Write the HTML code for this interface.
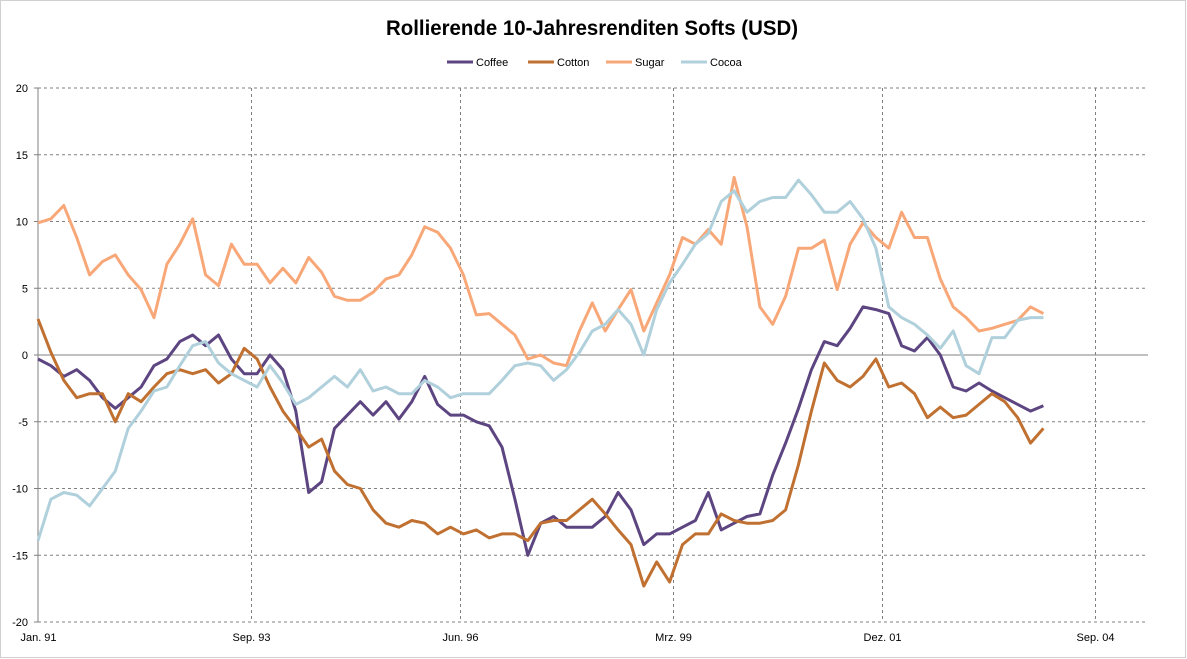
<!DOCTYPE html>
<html><head><meta charset="utf-8"><style>
body{margin:0;background:#fff;}
svg{display:block;font-family:"Liberation Sans",sans-serif;}
</style></head><body>
<svg id="chart" width="1187" height="659">
<rect x="0.5" y="0.5" width="1185" height="657" fill="#fff" stroke="#d0d0d0"/>
<text x="592" y="35" text-anchor="middle" font-size="21" font-weight="bold" fill="#000" textLength="412" lengthAdjust="spacingAndGlyphs">Rollierende 10-Jahresrenditen Softs (USD)</text>
<g id="legend"></g>
<g id="grid"></g>
<g id="axes"></g>
<g id="series"></g>
</svg>
<script>
const xTickLabels=["Jan. 91","Sep. 93","Jun. 96","Mrz. 99","Dez. 01","Sep. 04"];
const xTickMonths=[0,33,65.5,98.5,131,164];
const yTicks=[20,15,10,5,0,-5,-10,-15,-20];
const seriesNames=["Coffee","Cotton","Sugar","Cocoa"];
const seriesColors=["#5c4580","#c07030","#f8a878","#b0d0dc"];
const monthStep=2;
const coffee=[-0.3,-0.8,-1.6,-1.1,-1.9,-3.2,-4.0,-3.2,-2.4,-0.8,-0.3,1.0,1.5,0.7,1.5,-0.3,-1.4,-1.4,0,-1.1,-4.2,-10.3,-9.5,-5.5,-4.5,-3.5,-4.5,-3.5,-4.8,-3.5,-1.6,-3.7,-4.5,-4.5,-5.0,-5.3,-6.9,-10.8,-15,-12.6,-12.1,-12.9,-12.9,-12.9,-12.1,-10.3,-11.6,-14.2,-13.4,-13.4,-12.9,-12.4,-10.3,-13.1,-12.6,-12.1,-11.9,-9.0,-6.6,-4.0,-1.1,1.0,0.7,2.0,3.6,3.4,3.1,0.7,0.3,1.3,0,-2.4,-2.7,-2.1,-2.7,-3.2,-3.7,-4.2,-3.8];
const cotton=[2.7,0.2,-1.9,-3.2,-2.9,-2.9,-5.0,-2.9,-3.5,-2.4,-1.4,-1.1,-1.4,-1.1,-2.1,-1.4,0.5,-0.3,-2.4,-4.2,-5.5,-6.9,-6.3,-8.7,-9.7,-10,-11.6,-12.6,-12.9,-12.4,-12.6,-13.4,-12.9,-13.4,-13.1,-13.7,-13.4,-13.4,-13.9,-12.6,-12.4,-12.4,-11.6,-10.8,-11.9,-13.1,-14.2,-17.3,-15.5,-17,-14.2,-13.4,-13.4,-11.9,-12.4,-12.6,-12.6,-12.4,-11.6,-8.2,-4.2,-0.6,-1.9,-2.4,-1.6,-0.3,-2.4,-2.1,-2.9,-4.7,-3.9,-4.7,-4.5,-3.7,-2.9,-3.5,-4.7,-6.6,-5.5];
const sugar=[9.9,10.2,11.2,8.8,6.0,7.0,7.5,6.0,4.9,2.8,6.8,8.3,10.2,6.0,5.2,8.3,6.8,6.8,5.4,6.5,5.4,7.3,6.2,4.4,4.1,4.1,4.7,5.7,6.0,7.5,9.6,9.2,8.0,6.0,3.0,3.1,2.3,1.5,-0.3,0,-0.6,-0.8,1.8,3.9,1.8,3.4,4.9,1.8,3.9,6.0,8.8,8.3,9.4,8.3,13.3,9.6,3.6,2.3,4.4,8.0,8.0,8.6,4.9,8.3,9.9,8.8,8.0,10.7,8.8,8.8,5.7,3.6,2.8,1.8,2.0,2.3,2.6,3.6,3.1];
const cocoa=[-13.9,-10.8,-10.3,-10.5,-11.3,-10,-8.7,-5.5,-4.2,-2.7,-2.4,-0.8,0.7,1.0,-0.6,-1.4,-1.9,-2.4,-0.8,-2.1,-3.7,-3.2,-2.4,-1.6,-2.4,-1.1,-2.7,-2.4,-2.9,-2.9,-1.9,-2.4,-3.2,-2.9,-2.9,-2.9,-1.9,-0.8,-0.6,-0.8,-1.9,-1.1,0.2,1.8,2.3,3.4,2.3,0,3.4,5.4,6.8,8.3,9.1,11.5,12.3,10.7,11.5,11.8,11.8,13.1,12.0,10.7,10.7,11.5,10.2,8.0,3.6,2.8,2.3,1.5,0.5,1.8,-0.8,-1.4,1.3,1.3,2.6,2.8,2.8];
const allSeries=[coffee,cotton,sugar,cocoa];

const NS="http://www.w3.org/2000/svg";
const X0=38,X1=1095,Y0=88,Y1=622;
function xScale(m){return X0+(X1-X0)*m/164;}
function yScale(v){return Y0+(20-v)*(Y1-Y0)/40;}
function mk(tag,attrs,parent){const e=document.createElementNS(NS,tag);for(const k in attrs)e.setAttribute(k,attrs[k]);parent.appendChild(e);return e;}
const grid=document.getElementById('grid'),axes=document.getElementById('axes'),ser=document.getElementById('series'),leg=document.getElementById('legend');

yTicks.forEach(v=>{
  const y=yScale(v);
  const l=mk('line',{x1:X0,x2:1148,y1:y,y2:y,stroke:'#808080','stroke-width':1,'stroke-dasharray':v===0?'none':'3,3'},grid);
  
  
  const t=mk('text',{x:28,y:y+4,'text-anchor':'end','font-size':11,fill:'#000'},axes);
  t.textContent=v;
  
  
  const tk=mk('line',{x1:X0-4,x2:X0,y1:y,y2:y,stroke:'#808080'},axes);
  
  
});
xTickMonths.forEach((m,i)=>{
  const x=Math.round(xScale(m))+0.5;
  if(i>0){
    const l=mk('line',{x1:x,x2:x,y1:Y0,y2:Y1,stroke:'#808080','stroke-width':1,'stroke-dasharray':'3,3'},grid);
    
    
  }
  const t=mk('text',{x:x,y:641,'text-anchor':'middle','font-size':11,fill:'#000'},axes);
  t.textContent=xTickLabels[i];
  
  
});
const ax=mk('line',{x1:X0,x2:X0,y1:Y0,y2:Y1,stroke:'#808080'},axes);



allSeries.forEach((arr,si)=>{
  const pts=arr.map((v,i)=>xScale(i*monthStep).toFixed(1)+','+yScale(v).toFixed(1)).join(' ');
  const p=mk('polyline',{points:pts,fill:'none',stroke:seriesColors[si],'stroke-width':3,'stroke-linejoin':'round'},ser);
  
  
});
const legX=[447,528,606,681];
seriesNames.forEach((n,i)=>{
  const l=mk('line',{x1:legX[i],x2:legX[i]+26,y1:62,y2:62,stroke:seriesColors[i],'stroke-width':3},leg);
  
  
  const t=mk('text',{x:legX[i]+29,y:66,'font-size':11,fill:'#000'},leg);
  t.textContent=n;
  
  
});
</script>
</body></html>
